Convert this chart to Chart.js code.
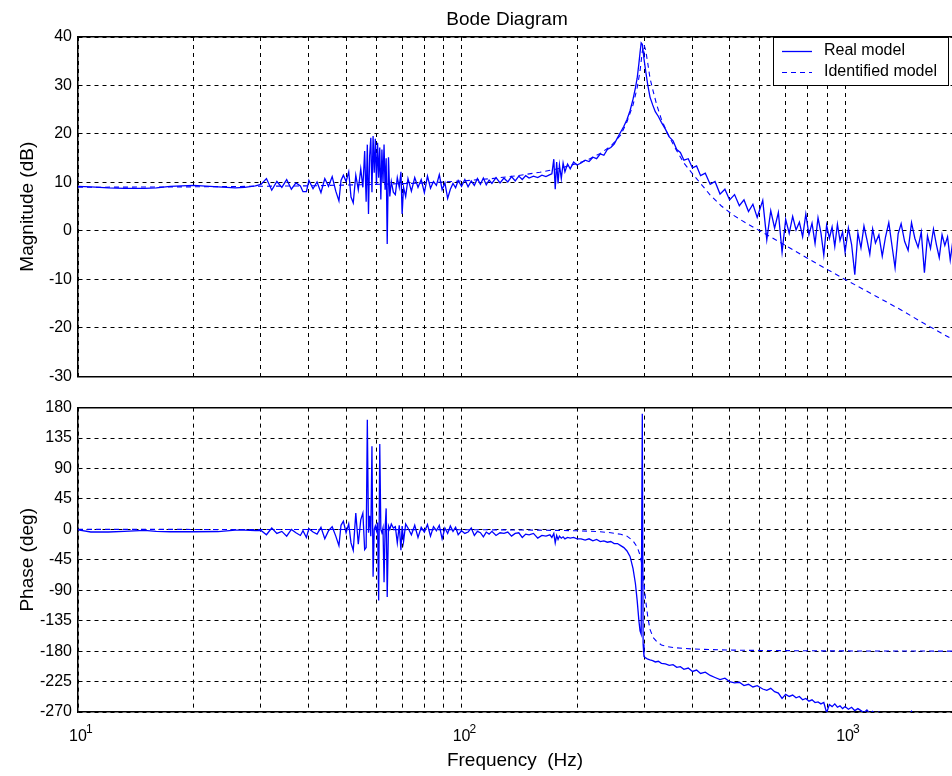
<!DOCTYPE html>
<html>
<head>
<meta charset="utf-8">
<script src="https://cdn.jsdelivr.net/npm/chart.js@4.4.0/dist/chart.umd.min.js"></script>
<style>
html, body { margin: 0; padding: 0; background: #fff; overflow: hidden; }
#top { position: absolute; left: 0; top: 0; width: 952px; height: 392px; }
#bottom { position: absolute; left: 0; top: 392px; width: 952px; height: 384px; }
</style>
</head>
<body>
<div id="top"><canvas id="magChart"></canvas></div>
<div id="bottom"><canvas id="phaseChart"></canvas></div>
<script>
// measured response (Hz, dB, deg)
const realFreq = [
  10, 10.8, 12, 13.2, 14.9, 16, 17.4, 20, 23.2, 25.7, 27.2, 29,
  30, 31, 32, 33, 34, 35, 36, 37, 38, 38.6, 39.4, 40, 41, 42, 43, 44, 45, 46, 47, 47.9, 48.5, 49.2,
  50, 50.8, 51.5, 52.2, 53, 53.8, 54.6, 55.3, 55.9, 56.4, 56.8, 57.2, 57.6, 58, 58.4, 58.8, 59.2, 59.6, 60, 60.4,
  60.8, 61.2, 61.6, 62, 62.4, 62.8, 63.2, 63.6, 64, 64.5, 65, 65.6, 66.4, 67.2, 68, 68.8, 69.5, 70, 70.6, 71.5, 72.5,
  74, 75.5, 77, 78.5, 80, 81.5, 83, 84.5, 86, 87.5, 89, 90.5, 92, 93.5, 95, 96.5, 98, 100, 102, 104,
  106, 108, 110, 112, 114, 116, 118, 120, 123, 126, 129, 132, 135, 138, 141, 144, 147, 150, 154, 158, 162, 166, 170,
  172, 174, 175.5, 177, 178.5, 180, 182, 184, 186, 189, 192, 196, 200,
  205, 210, 215, 220, 225, 230, 235, 240, 245, 250, 255, 260, 265, 270, 275, 280, 284, 287, 290, 292, 294, 296, 297.5, 299,
  302, 306, 310, 315, 320, 326, 332, 340, 348, 356, 364, 372, 380, 390, 400, 410, 420, 432, 445, 458, 472, 486, 500, 515, 530, 545, 560, 575, 590,
  610, 625, 640, 655, 670, 685, 700, 715, 730, 745, 760, 775, 790, 805, 820, 835, 850, 865, 880, 895, 910, 925, 940, 955, 970, 985, 1000,
  1020, 1040, 1060, 1080, 1100, 1120, 1140, 1160, 1180, 1200,
  1225, 1250, 1275, 1300, 1325, 1350, 1375, 1400,
  1430, 1460, 1490, 1520, 1550, 1580, 1610, 1640, 1670, 1700, 1730, 1760, 1790, 1820, 1850, 1880, 1910
];
const realMag = [
  9.2, 9.1, 8.9, 8.8, 8.8, 8.9, 9.2, 9.4, 9.1, 8.9, 9.0, 9.3,
  9.6, 10.8, 8.4, 10.2, 9.0, 10.6, 8.6, 9.9, 9.3, 8.1, 8.1, 10.4, 8.7, 10.1, 7.9, 10.8, 9.2, 11.2, 8.2, 6.2, 10.4, 11.5,
  10.2, 12.2, 7.0, 5.8, 11.5, 8.5, 12.8, 9.0, 16.5, 6.0, 17.8, 3.5, 15.5, 19.2, 8.0, 19.6, 12.0, 19.0, 9.5, 18.2,
  11.0, 17.2, 6.5, 16.8, 10.0, 17.8, 8.5, 15.0, -2.7, 15.2, 7.1, 10.2, 8.0, 7.5, 11.0, 9.0, 12.2, 3.5, 9.0, 7.1, 10.8,
  8.2, 11.0, 9.0, 10.6, 7.9, 11.3, 8.8, 10.2, 9.4, 11.6, 8.5, 9.9, 6.7, 8.6, 9.8, 8.9, 10.4, 9.2, 10.6, 9.1,
  10.3, 9.4, 10.8, 9.6, 10.9, 9.5, 10.5, 9.8, 11.0, 9.9, 10.9, 10.1, 11.2, 10.3, 11.3, 10.6, 11.4, 10.9, 11.3, 11.0, 11.5, 11.2, 11.6,
  11.8, 14.8, 8.6, 14.2, 9.8, 13.6, 10.8, 14.0, 12.2, 13.8, 12.8, 14.2, 13.6,
  14.0, 14.6, 14.3, 15.2, 14.9, 15.9, 15.6, 16.8, 17.2, 17.9, 19.2, 20.4, 21.6, 23.0, 24.8, 27.2, 29.5, 31.5, 34.5, 36.8, 38.8, 38.5, 37.0, 35.5,
  33.0, 30.0, 27.6, 26.0, 24.6, 23.6, 22.4, 21.0, 19.4, 18.6, 16.8, 16.2, 14.6, 14.9, 13.0, 13.4, 11.4, 11.9, 9.6, 10.2, 7.6, 8.6, 6.4, 7.5, 5.2, 6.4, 4.0, 5.5, 2.8,
  6.3, -1.8, 4.2, 0.6, 3.8, -4.4, 2.4, -0.5, 3.0, 0.2, 1.8, -1.2, 3.5, -0.8, 1.6, -2.6, 2.7, -0.4, -5.0, 1.2, -1.5, 0.8, -3.2, 1.4, -2.0, -0.2, -4.4,
  0.6, -2.8, -9.0, -0.4, -3.5, 1.0, -1.8, -4.8, 0.4, -2.5,
  -0.8, -5.2, -1.2, 1.7, -3.0, -7.6, -0.6, 1.5,
  -2.2, -4.0, 1.7, -1.5, -3.4, -0.2, -8.6, -1.0, -3.6, 0.4, -2.8, -5.5, -0.8, -3.0, -1.2, -6.0, -2.0
];
const realPhase = [
  -0.8, -3.9, -3.9, -3.0, -1.5, -3.0, -3.5, -3.5, -3.2, -1.0, -1.2, -2.0,
  -1.5, -8, 2, -6, -3, -10, 0, -5, -9, -2, -12, 1, -4, -7, 3, -14, -2, 4, -10, -24, 6, 12,
  -5, 8, -20, -31, 24, -22, 14, 24, -30, -27, 162, -5, 20, -10, 123, -70, 0, 5, -2, 10,
  -105, 126, 0, -5, 2, -78, 0, 31, -100, 5, 0, 8, 2, 4, -20, 6, -31, 5, -18, 8, 2,
  -8, 6, -12, 3, -4, 7, -10, 4, -2, 6, -14, 2, -6, 5, -3, 3, -8, -2, -6, -4,
  2, -9, -3, -5, -11, -4, -7, -3, -9, -5, -6, -4, -10, -6, -5, -12, -7, -8, -6, -13, -9, -10, -8,
  -12, -6, -20, -9, -15, -10, -13, -11, -14, -12, -13, -12, -14,
  -14, -16, -14, -17, -15, -18, -17, -19, -18, -21, -21, -24, -27, -32, -40, -58, -80, -105, -135, -150, -155, 171, -170, -188,
  -190, -192, -193, -194, -196, -195, -198, -199, -201, -200, -204, -203, -207, -205, -210, -208, -213, -211, -216, -219, -222, -220, -225, -227, -226, -231, -229, -233, -231,
  -236, -238, -235, -240, -242, -250, -244, -247, -245, -249, -247, -252, -250, -254, -252, -256, -255, -258, -256, -271, -259, -262, -258, -263, -261, -265, -262,
  -266, -263, -268, -265, -268, -271, -267, -272, -269, -273,
  -270, -274, -271, -275, -277, -276, -278, -276,
  -279, -277, -269, -280, -282, -281, -284, -283, -286, -285, -288, -287, -290, -289, -292, -291, -294
];

// identified model
const idFreq = [10, 20, 40, 60, 80, 100, 120, 140, 160, 180, 200, 215, 230, 245, 260, 270, 280, 287, 292, 296,
  299, 302, 306, 310, 316, 323, 332, 345, 360, 380, 400, 425, 445, 475, 510, 550, 600, 700, 800, 1000, 1200, 1400, 1600, 1900];
const idMag = [9.0, 9.1, 9.3, 9.6, 9.9, 10.3, 10.8, 11.4, 12.1, 12.9, 13.9, 14.8, 16.0, 17.5, 19.8, 22.5, 26.0, 29.5, 33.0, 37.0,
  38.4, 37.3, 34.5, 31.5, 28.8, 25.9, 23.0, 20.0, 17.2, 14.0, 11.8, 9.3, 7.4, 5.2, 3.3, 1.7, 0.0, -3.0, -5.7, -10.0, -13.4, -16.3, -19.0, -22.3];
const idPhase = [0, -0.1, -0.2, -0.3, -0.4, -0.5, -0.7, -0.9, -1.2, -1.6, -2.1, -2.7, -3.6, -5.0, -7.3, -10, -17, -26, -38, -55,
  -80, -105, -130, -148, -160, -166, -171, -173.5, -175, -176, -176.8, -177.3, -177.7, -178.1, -178.5, -178.8, -179, -179.3, -179.5, -179.7, -179.8, -179.8, -179.9, -180];

const decades = [10, 100, 1000];
const exponents = ['1', '2', '3'];

const blue = '#0000ff';
const fontFamily = '"Liberation Sans", Arial, sans-serif';
Chart.defaults.font.family = fontFamily;
Chart.defaults.color = '#000';

function pts(freq, vals) {
  return freq.map((f, i) => ({ x: f, y: vals[i] }));
}

function datasets(realVals, idVals) {
  return [
    { label: 'Real model', data: pts(realFreq, realVals), borderColor: blue, borderWidth: 1.3, pointRadius: 0, tension: 0, xAxisID: 'x', yAxisID: 'y' },
    { label: 'Identified model', data: pts(idFreq, idVals), borderColor: blue, borderWidth: 1.1, borderDash: [5, 4], pointRadius: 0, tension: 0, xAxisID: 'x', yAxisID: 'y' }
  ];
}

// keep only 1..9 x 10^n grid lines
function keepDecadeSteps(scale) {
  scale.ticks = scale.ticks.filter(t => {
    const r = t.value / Math.pow(10, Math.floor(Math.log10(t.value) + 1e-9));
    return Math.abs(r - Math.round(r)) < 1e-6;
  });
}

const gridOpts = { color: '#000', lineWidth: 1, drawTicks: false };
const borderOpts = { display: true, color: '#000', width: 1.5, dash: [4, 4] };

function xScales(showLabels) {
  return {
    x: {
      type: 'logarithmic', axis: 'x', position: 'bottom', min: 10, max: 1900,
      afterBuildTicks: keepDecadeSteps,
      afterFit: s => { s.height = showLabels ? 64 : 8; },
      grid: gridOpts,
      border: borderOpts,
      ticks: {
        display: showLabels, autoSkip: false, maxRotation: 0, padding: 15, font: { size: 16 },
        callback: v => decades.indexOf(Math.round(v)) >= 0 ? '10' : ''
      },
      title: { display: showLabels, text: 'Frequency  (Hz)', font: { size: 19 }, padding: { top: 0, bottom: 4 } }
    },
    xTop: {
      type: 'logarithmic', axis: 'x', position: 'top', min: 10, max: 1900,
      afterFit: s => { s.height = 0; },
      grid: { display: false },
      border: { display: true, color: '#000', width: 1.5 },
      ticks: { display: false }
    }
  };
}

function yScale(min, max, step, text) {
  return {
    min: min, max: max,
    afterFit: s => { s.width = 78; },
    grid: gridOpts,
    border: borderOpts,
    ticks: { stepSize: step, padding: 6, font: { size: 16 } },
    title: { display: true, text: text, font: { size: 19 }, padding: { top: 16, bottom: 0 } }
  };
}

const bodeTitle = {
  id: 'bodeTitle',
  afterDraw(chart) {
    const { ctx, chartArea } = chart;
    ctx.save();
    ctx.font = '19px ' + fontFamily;
    ctx.fillStyle = '#000';
    ctx.textAlign = 'center';
    ctx.textBaseline = 'middle';
    ctx.fillText('Bode Diagram', (chartArea.left + chartArea.right) / 2 - 8, 20);
    ctx.restore();
  }
};

const legendBox = {
  id: 'legendBox',
  afterDraw(chart) {
    const { ctx, chartArea } = chart;
    const w = 175, h = 48;
    const x0 = chartArea.right - w - 4, y0 = chartArea.top;
    ctx.save();
    ctx.fillStyle = '#fff';
    ctx.fillRect(x0, y0, w, h);
    ctx.strokeStyle = '#000';
    ctx.lineWidth = 1;
    ctx.strokeRect(x0 + 0.5, y0 + 0.5, w, h);
    ctx.font = '16px ' + fontFamily;
    ctx.textBaseline = 'middle';
    chart.data.datasets.forEach((ds, i) => {
      const yy = y0 + 14 + i * 21;
      ctx.strokeStyle = ds.borderColor;
      ctx.lineWidth = ds.borderWidth;
      ctx.setLineDash(ds.borderDash || []);
      ctx.beginPath();
      ctx.moveTo(x0 + 9, yy + 0.5);
      ctx.lineTo(x0 + 39, yy + 0.5);
      ctx.stroke();
      ctx.setLineDash([]);
      ctx.fillStyle = '#000';
      ctx.fillText(ds.label, x0 + 51, yy);
    });
    ctx.restore();
  }
};

// raised exponents next to the "10" decade labels
const decadeExponents = {
  id: 'decadeExponents',
  afterDraw(chart) {
    const { ctx, chartArea } = chart;
    const xs = chart.scales.x;
    ctx.save();
    ctx.font = '12px ' + fontFamily;
    ctx.fillStyle = '#000';
    ctx.textAlign = 'left';
    ctx.textBaseline = 'alphabetic';
    decades.forEach((d, i) => {
      ctx.fillText(exponents[i], xs.getPixelForValue(d) + 8, chartArea.bottom + 21);
    });
    ctx.restore();
  }
};

new Chart(document.getElementById('magChart'), {
  type: 'line',
  data: { datasets: datasets(realMag, idMag) },
  options: {
    responsive: true, maintainAspectRatio: false, animation: false,
    layout: { padding: { top: 37, right: 0, bottom: 0, left: 0 } },
    plugins: { legend: { display: false }, tooltip: { enabled: false } },
    scales: Object.assign(xScales(false), { y: yScale(-30, 40, 10, 'Magnitude (dB)') })
  },
  plugins: [bodeTitle, legendBox]
});

new Chart(document.getElementById('phaseChart'), {
  type: 'line',
  data: { datasets: datasets(realPhase, idPhase) },
  options: {
    responsive: true, maintainAspectRatio: false, animation: false,
    layout: { padding: { top: 11, right: 0, bottom: 0, left: 0 } },
    plugins: { legend: { display: false }, tooltip: { enabled: false } },
    scales: Object.assign(xScales(true), { y: yScale(-270, 180, 45, 'Phase (deg)') })
  },
  plugins: [decadeExponents]
});
</script>
</body>
</html>
